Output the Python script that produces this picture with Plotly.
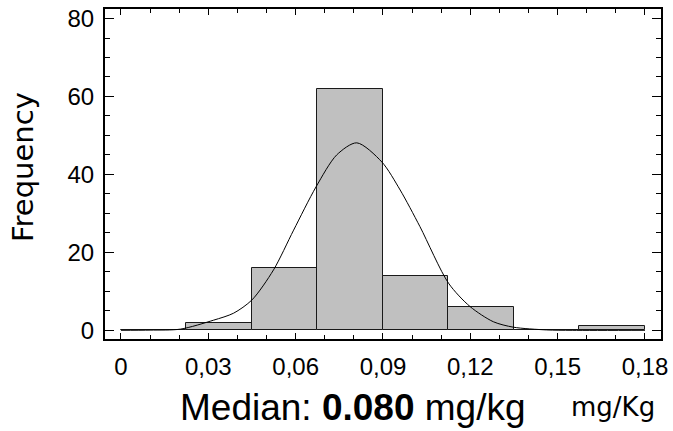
import plotly.graph_objects as go

# Histogram bins (mg/Kg) and frequencies
bin_left = [0.0, 0.0225, 0.045, 0.0675, 0.09, 0.1125, 0.135, 0.1575]
bin_width = 0.0225
frequency = [0, 2, 16, 62, 14, 6, 0, 1]

# Fitted density curve
curve_x = [0.000, 0.010, 0.0204, 0.0318, 0.0387, 0.045, 0.0524, 0.0593, 0.0670,
           0.0741, 0.0810, 0.0896, 0.0959, 0.1027, 0.1125, 0.1199, 0.1279, 0.1348,
           0.1462, 0.155, 0.180]
curve_y = [0.0, 0.05, 0.3, 2.6, 4.4, 7.8, 15.5, 25.7, 36.8,
           45.0, 48.1, 43.2, 36.0, 26.6, 12.1, 6.1, 2.2, 0.8,
           0.1, 0.0, 0.0]

x_tickvals = [0, 0.03, 0.06, 0.09, 0.12, 0.15, 0.18]
x_ticktext = ["0", "0,03", "0,06", "0,09", "0,12", "0,15", "0,18"]
y_tickvals = [0, 20, 40, 60, 80]
y_ticktext = ["0", "20", "40", "60", "80"]

centers = [b + bin_width / 2 for b in bin_left]

fig = go.Figure()
fig.add_trace(go.Bar(
    x=centers, y=frequency, width=[bin_width] * len(centers),
    marker=dict(color="#c0c0c0", line=dict(color="#1a1a1a", width=1)),
    showlegend=False, hoverinfo="skip"))
fig.add_trace(go.Scatter(
    x=curve_x, y=curve_y, mode="lines",
    line=dict(color="black", width=1, shape="spline", smoothing=0.8),
    showlegend=False, hoverinfo="skip"))

W, H = 673, 431
L, R, T, B = 105, 12, 9, 92
pw, ph = W - L - R, H - T - B

def px(xp):
    return (xp - L) / pw

def py(yp):
    return (H - B - yp) / ph

tickfont = dict(family="Liberation Sans, Arial, sans-serif", size=24, color="black")

fig.update_layout(
    width=W, height=H,
    margin=dict(l=L, r=R, t=T, b=B, pad=0, autoexpand=False),
    plot_bgcolor="white", paper_bgcolor="white",
    bargap=0,
    xaxis=dict(
        range=[-0.00549, 0.1855], tickmode="array",
        tickvals=x_tickvals, ticktext=x_ticktext,
        ticks="inside", ticklen=6, tickwidth=1, tickcolor="black",
        minor=dict(tickmode="linear", tick0=0, dtick=0.01, ticks="inside",
                   ticklen=4, tickwidth=1, tickcolor="black", showgrid=False),
        showline=True, linecolor="black", linewidth=2, mirror="allticks",
        showgrid=False, zeroline=False, tickfont=tickfont,
        ticklabelstandoff=5, automargin=False),
    yaxis=dict(
        range=[-2.23, 82.44], tickmode="array",
        tickvals=y_tickvals, ticktext=y_ticktext,
        ticks="inside", ticklen=9, tickwidth=1, tickcolor="black",
        minor=dict(tickmode="linear", tick0=0, dtick=5, ticks="inside",
                   ticklen=5, tickwidth=1, tickcolor="black", showgrid=False),
        showline=True, linecolor="black", linewidth=2, mirror="allticks",
        showgrid=False, zeroline=False, tickfont=tickfont,
        ticklabelstandoff=4, automargin=False),
    annotations=[
        dict(text="Frequency", textangle=-90, xref="paper", yref="paper",
             x=px(23), y=py(167), xanchor="center", yanchor="middle",
             showarrow=False,
             font=dict(family="DejaVu Sans, sans-serif", size=29, color="black")),
        dict(text="Median: <b>0.080</b> mg/kg", xref="paper", yref="paper",
             x=px(353), y=py(408), xanchor="center", yanchor="middle",
             showarrow=False,
             font=dict(family="Liberation Sans, Arial, sans-serif", size=37, color="black")),
        dict(text="mg/Kg", xref="paper", yref="paper",
             x=px(613), y=py(407), xanchor="center", yanchor="middle",
             showarrow=False,
             font=dict(family="DejaVu Sans, sans-serif", size=26, color="black")),
    ],
)

fig.write_html("out.html", config={"displayModeBar": False},
               post_script="document.body.style.margin='0';document.body.style.overflow='hidden';")
